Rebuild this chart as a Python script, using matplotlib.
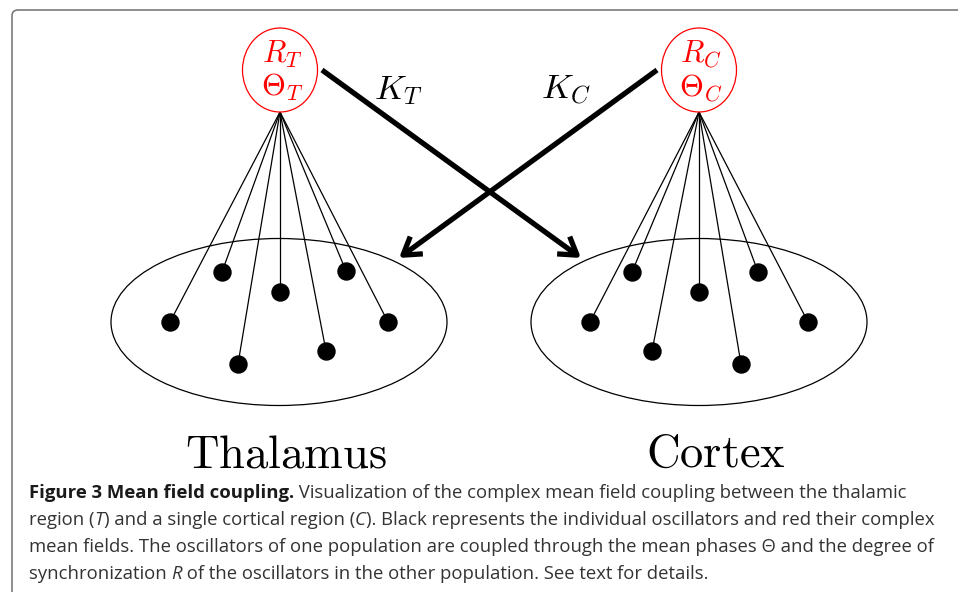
import matplotlib
matplotlib.use("Agg")
import matplotlib.pyplot as plt
from matplotlib import font_manager
from matplotlib.patches import Ellipse, FancyArrowPatch, FancyBboxPatch

plt.rcParams["mathtext.fontset"] = "cm"

# oscillator positions (pixel coords) for each population
thal_x = [170, 222, 238, 280, 326, 346, 388]
thal_y = [322, 272, 364, 292, 351, 271, 322]
cort_x = [590, 632, 652, 699, 741, 758, 808]
cort_y = [322, 272, 351, 292, 364, 272, 322]

# mean field nodes
field_x = [280, 699]
field_y = [70, 70]
field_labels = ["$R_T$\n$\\Theta_T$", "$R_C$\n$\\Theta_C$"]

pop_centers_x = [279, 699]
pop_center_y = 322
pop_names = ["Thalamus", "Cortex"]
pop_label_x = [286, 716]

# coupling arrows: start, tip, label
arrows = [((322, 70), (581, 258)), ((657, 70), (399, 258))]
arrow_labels = ["$K_T$", "$K_C$"]
arrow_label_pos = [(398, 90), (566, 90)]

caption = [
    [("Figure 3 Mean field coupling.", "bold", "normal"),
     (" Visualization of the complex mean field coupling between the thalamic", "normal", "normal")],
    [("region (", "normal", "normal"), ("T", "normal", "italic"),
     (") and a single cortical region (", "normal", "normal"), ("C", "normal", "italic"),
     ("). Black represents the individual oscillators and red their complex", "normal", "normal")],
    [("mean fields. The oscillators of one population are coupled through the mean phases \u0398 and the degree of", "normal", "normal")],
    [("synchronization ", "normal", "normal"), ("R", "normal", "italic"),
     (" of the oscillators in the other population. See text for details.", "normal", "normal")],
]

available = {f.name for f in font_manager.fontManager.ttflist}
cap_font = "Open Sans" if "Open Sans" in available else "DejaVu Sans"

fig = plt.figure(figsize=(9.58, 5.92), dpi=100)
ax = fig.add_axes([0, 0, 1, 1])
ax.set_xlim(0, 958)
ax.set_ylim(592, 0)
ax.axis("off")

# frame
frame = FancyBboxPatch((12, 10), 1000, 700, boxstyle="round,pad=0,rounding_size=6",
                       fc="none", ec="#7a7a7a", lw=1.2)
ax.add_patch(frame)

for cx in pop_centers_x:
    ax.add_patch(Ellipse((cx, pop_center_y), 336, 167, fc="none", ec="black", lw=0.9))

for (fx, fy), xs, ys in zip(zip(field_x, field_y), [thal_x, cort_x], [thal_y, cort_y]):
    for x, y in zip(xs, ys):
        ax.plot([fx, x], [fy + 42, y], color="black", lw=0.9, solid_capstyle="butt")
    ax.scatter(xs, ys, s=150, color="black", zorder=3)

for fx, fy, lab in zip(field_x, field_y, field_labels):
    ax.add_patch(Ellipse((fx, fy), 75, 84, fc="white", ec="red", lw=0.9, zorder=4))
    ax.text(fx + 2, fy + 1, lab, color="red", fontsize=22, ha="center", va="center",
            linespacing=1.1, zorder=5)

for (p0, p1), lab, (lx, ly) in zip(arrows, arrow_labels, arrow_label_pos):
    arr = FancyArrowPatch(p0, p1, arrowstyle="->,head_length=0.55,head_width=0.35",
                          mutation_scale=22, lw=3.8, color="black", shrinkA=0, shrinkB=0,
                          capstyle="butt", joinstyle="round")
    ax.add_patch(arr)
    ax.text(lx, ly, lab, fontsize=25, ha="center", va="center")

for lx, name in zip(pop_label_x, pop_names):
    ax.text(lx, 467, "$\\mathrm{" + name + "}$", fontsize=33.5, ha="center", va="baseline")

# caption, built piece by piece
baselines = [498, 525, 552, 579]
for line, yb in zip(caption, baselines):
    prev = None
    for txt, weight, style in line:
        kw = dict(fontsize=13.3, family=cap_font, weight=weight, style=style,
                  color="#1a1a1a" if weight == "bold" else "#333333")
        if prev is None:
            prev = ax.text(29, yb, txt, va="baseline", ha="left", **kw)
        else:
            prev = ax.annotate(txt, xy=(1, 0), xycoords=prev, va="bottom", ha="left", **kw)

fig.savefig("out.png", dpi=100)
